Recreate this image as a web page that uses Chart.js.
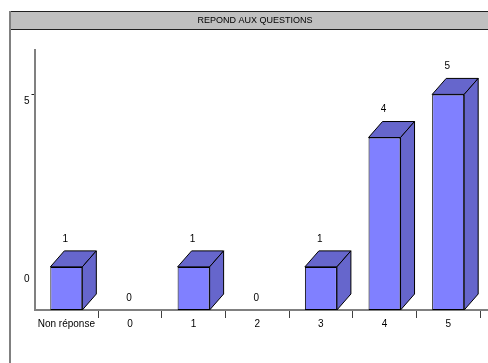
<!DOCTYPE html>
<html>
<head>
<meta charset="utf-8">
<script src="https://cdn.jsdelivr.net/npm/chart.js@4/dist/chart.umd.min.js"></script>
<style>
  html, body { margin: 0; padding: 0; background: #fff; }
  #wrap { width: 488px; height: 363px; }
</style>
</head>
<body>
<div id="wrap"><canvas id="c" width="488" height="363"></canvas></div>
<script>
// Answers to the question, counted per response
const categories = ['Non réponse', '0', '1', '2', '3', '4', '5'];
const counts = [1, 0, 1, 0, 1, 4, 5];

// Vertical axis ticks (positions on the value scale and their printed text)
const yTickValues = [0.88, 5];
const yTickLabels = ['0', '5'];

const chartTitle = 'REPOND AUX QUESTIONS';

const FONT = 'Liberation Sans, Arial, sans-serif';
const FRONT = '#8080ff';
const SHADE = '#6666cc';
const DEPTH_X = 14;
const DEPTH_Y = 16;

// Window frame with the grey caption bar
const framePlugin = {
  id: 'frame',
  beforeDraw(chart) {
    const ctx = chart.ctx;
    ctx.save();
    ctx.fillStyle = '#c0c0c0';
    ctx.fillRect(10, 11, 480, 19);
    ctx.strokeStyle = '#202020';
    ctx.lineWidth = 1;
    ctx.beginPath();
    ctx.moveTo(10, 11.5); ctx.lineTo(488, 11.5);
    ctx.moveTo(10, 29.5); ctx.lineTo(488, 29.5);
    ctx.stroke();
    ctx.strokeStyle = '#808080';
    ctx.lineWidth = 2;
    ctx.beginPath();
    ctx.moveTo(10, 11); ctx.lineTo(10, 363);
    ctx.stroke();
    ctx.fillStyle = '#000';
    ctx.font = '9px ' + FONT;
    ctx.textAlign = 'center';
    ctx.textBaseline = 'middle';
    ctx.fillText(chartTitle, 255, 20.5);
    ctx.restore();
  }
};

// Top and side faces of each block, plus the count written above it
const blockPlugin = {
  id: 'blocks',
  afterDatasetsDraw(chart) {
    const ctx = chart.ctx;
    const meta = chart.getDatasetMeta(0);
    const xs = chart.scales.x;
    ctx.save();
    // axis line runs on a little past the last category
    ctx.strokeStyle = '#808080';
    ctx.lineWidth = 2;
    ctx.beginPath();
    ctx.moveTo(xs.right, chart.chartArea.bottom);
    ctx.lineTo(488, chart.chartArea.bottom);
    ctx.stroke();

    meta.data.forEach((bar, i) => {
      const v = counts[i];
      const p = bar.getProps(['x', 'y', 'base', 'width'], true);
      const l = p.x - p.width / 2, r = p.x + p.width / 2;
      const t = p.y, b = p.base;
      if (v > 0) {
        ctx.fillStyle = SHADE;
        ctx.strokeStyle = '#000';
        ctx.lineWidth = 1;
        ctx.lineJoin = 'round';
        // top face
        ctx.beginPath();
        ctx.moveTo(l, t);
        ctx.lineTo(l + DEPTH_X, t - DEPTH_Y);
        ctx.lineTo(r + DEPTH_X, t - DEPTH_Y);
        ctx.lineTo(r, t);
        ctx.closePath();
        ctx.fill(); ctx.stroke();
        // side face
        ctx.beginPath();
        ctx.moveTo(r, t);
        ctx.lineTo(r + DEPTH_X, t - DEPTH_Y);
        ctx.lineTo(r + DEPTH_X, b - DEPTH_Y);
        ctx.lineTo(r, b);
        ctx.closePath();
        ctx.fill(); ctx.stroke();
      }
      ctx.fillStyle = '#000';
      ctx.font = '10px ' + FONT;
      ctx.textAlign = 'center';
      ctx.textBaseline = 'middle';
      const ly = (v > 0 ? t - DEPTH_Y : t) - 12;
      ctx.fillText(String(v), p.x - 1, ly);
    });
    ctx.restore();
  }
};

new Chart(document.getElementById('c'), {
  type: 'bar',
  data: {
    labels: categories,
    datasets: [{
      data: counts,
      backgroundColor: ctx => (counts[ctx.dataIndex] > 0 ? FRONT : 'rgba(0,0,0,0)'),
      borderColor: '#000',
      borderWidth: ctx => (counts[ctx.dataIndex] > 0 ? 1 : 0),
      borderSkipped: false,
      categoryPercentage: 1,
      barPercentage: 0.503
    }]
  },
  options: {
    responsive: false,
    animation: false,
    devicePixelRatio: 1,
    layout: { padding: { top: 50, right: 8, left: 0, bottom: 0 } },
    plugins: {
      legend: { display: false },
      tooltip: { enabled: false },
      title: { display: false }
    },
    scales: {
      x: {
        afterFit(scale) { scale.height = 53; },
        border: { color: '#808080', width: 2 },
        grid: {
          offset: true,
          drawOnChartArea: false,
          drawTicks: true,
          tickLength: 8,
          color: ctx => (ctx.index === 0 ? 'rgba(0,0,0,0)' : '#404040'),
          lineWidth: 1
        },
        ticks: {
          color: '#000',
          font: { family: FONT, size: 10 },
          padding: 0,
          maxRotation: 0,
          autoSkip: false
        }
      },
      y: {
        min: 0,
        max: 6.03,
        afterFit(scale) { scale.width = 34.5; },
        afterBuildTicks(scale) {
          scale.ticks = yTickValues.map(v => ({ value: v }));
        },
        border: { color: '#808080', width: 2 },
        grid: {
          drawOnChartArea: false,
          drawTicks: true,
          tickLength: 3,
          color: ctx => (ctx.index === 0 ? 'rgba(0,0,0,0)' : '#202020'),
          lineWidth: 1
        },
        ticks: {
          color: '#000',
          font: { family: FONT, size: 10 },
          padding: 2,
          labelOffset: 7,
          callback: (val, idx) => yTickLabels[idx]
        }
      }
    }
  },
  plugins: [framePlugin, blockPlugin]
});
</script>
</body>
</html>
